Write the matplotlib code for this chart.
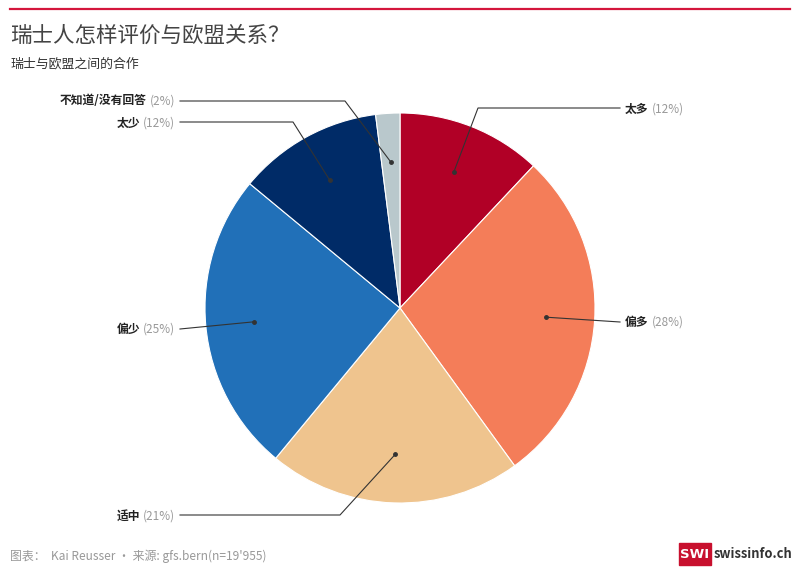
import numpy as np
import matplotlib
matplotlib.use("Agg")
import matplotlib.pyplot as plt

plt.rcParams["font.family"] = ["Noto Sans CJK SC", "DejaVu Sans"]

# ── Data ──────────────────────────────────────────────────────────────────────
categories = ["太多", "偏多", "适中", "偏少", "太少", "不知道/没有回答"]
shares = [12, 28, 21, 25, 12, 2]
colors = ["#b10026", "#f47d59", "#efc48e", "#2170b8", "#002b67", "#b9c8cc"]

# label anchor (x, y in px from top-left), elbow point, side
label_pos = [(625, 109), (625, 322), (175, 516), (175, 329), (175, 123), (175, 101)]
elbows = [(478, 108), None, (340, 515), None, (293, 122), (345, 101)]

W, H = 800, 574
CX, CY, R = 400, 308, 195

fig = plt.figure(figsize=(W / 100, H / 100), dpi=100)
ax = fig.add_axes([0, 0, 1, 1])

def py(y):
    return H - y

wedges, _ = ax.pie(shares, colors=colors, startangle=90, counterclock=False,
                   center=(CX, py(CY)), radius=R, frame=True,
                   wedgeprops=dict(edgecolor="white", linewidth=0.8))
ax.set_xlim(0, W)
ax.set_ylim(0, H)
ax.set_aspect("equal")
ax.axis("off")

# ── Leader lines + labels ─────────────────────────────────────────────────────
fig.canvas.draw()
renderer = fig.canvas.get_renderer()
for w, name, val, (lx, ly), elb in zip(wedges, categories, shares, label_pos, elbows):
    mid = np.deg2rad((w.theta1 + w.theta2) / 2)
    dx = CX + 0.75 * R * np.cos(mid)
    dy = py(CY) + 0.75 * R * np.sin(mid)
    right = lx > CX
    end_x = lx - 5 if right else lx + 5
    xs, ys = [dx], [dy]
    if elb is not None:
        xs.append(elb[0]); ys.append(py(elb[1]))
    xs.append(end_x); ys.append(py(ly) if elb is None else py(elb[1]))
    ax.plot(xs, ys, color="#333333", lw=0.8, zorder=3)
    ax.plot(dx, dy, "o", color="#333333", ms=2.5, zorder=4)

    pct = f"({val}%)"
    if right:
        t = ax.text(lx, py(ly), name, ha="left", va="center", fontsize=8.5,
                    color="#222222", fontweight="bold")
        bb = t.get_window_extent(renderer)
        ax.text(bb.x1 + 3, py(ly), pct, ha="left", va="center", fontsize=8.5,
                color="#999999")
    else:
        t = ax.text(lx, py(ly), pct, ha="right", va="center", fontsize=8.5,
                    color="#999999")
        bb = t.get_window_extent(renderer)
        ax.text(bb.x0 - 3, py(ly), name, ha="right", va="center", fontsize=8.5,
                color="#222222", fontweight="bold")

# ── Header / footer ───────────────────────────────────────────────────────────
ax.plot([10, 790], [py(9), py(9)], color="#d4163c", lw=1.6)
ax.text(10, py(36), "瑞士人怎样评价与欧盟关系？", ha="left", va="center",
        fontsize=15.5, color="#444444")
ax.text(10, py(64), "瑞士与欧盟之间的合作", ha="left", va="center",
        fontsize=9.3, color="#333333")
ax.text(10, py(556), "图表：  Kai Reusser • 来源: gfs.bern(n=19'955)", ha="left",
        va="center", fontsize=8.6, color="#999999")

ax.add_patch(plt.Rectangle((679, py(565)), 32, 22, color="#c8102e", zorder=5))
ax.text(695, py(554), "SWI", ha="center", va="center", fontsize=9.5,
        color="white", fontweight="bold", zorder=6, family="DejaVu Sans")
ax.text(714, py(554), "swissinfo.ch", ha="left", va="center", fontsize=9.3,
        color="#333333", fontweight="bold", zorder=6)

plt.savefig("out.png", dpi=100)
plt.close()
